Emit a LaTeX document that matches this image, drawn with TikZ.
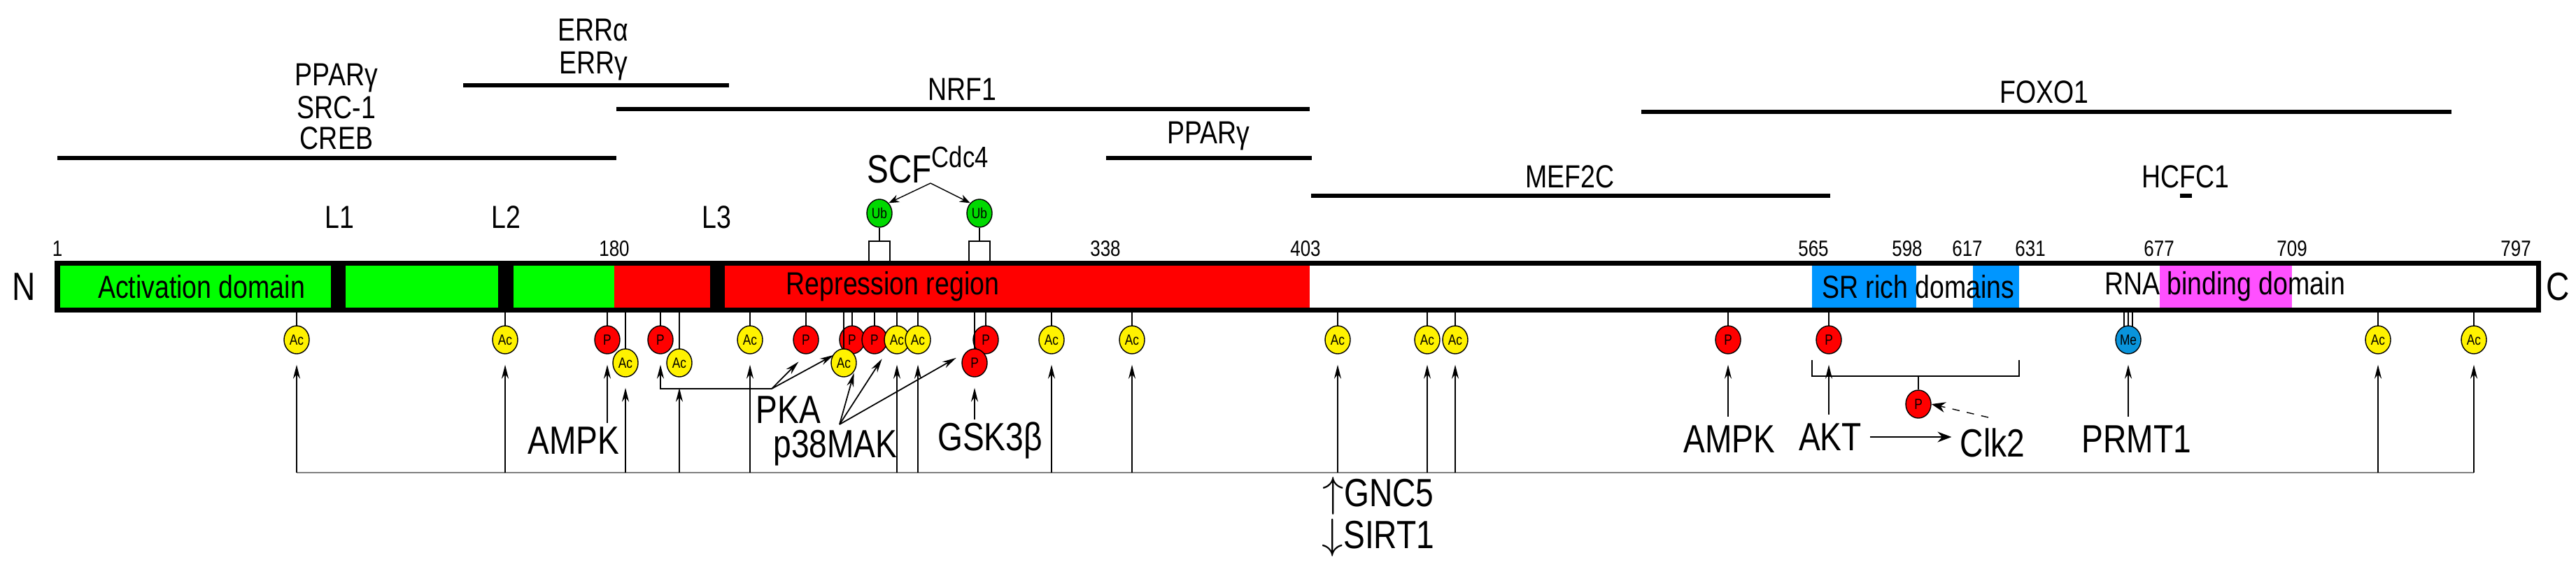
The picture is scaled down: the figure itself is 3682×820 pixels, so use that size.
\documentclass[tikz,border=0pt]{standalone}
\usepackage{fontspec}
\setmainfont{Liberation Sans}[FakeStretch=0.82]
\usetikzlibrary{arrows.meta,shapes.geometric}
\definecolor{srblue}{RGB}{0,150,255}
\definecolor{rnapink}{RGB}{255,80,255}
\begin{document}
\begin{tikzpicture}[x=0.01cm,y=-0.01cm,
  lab/.style={font=\fontsize{13}{15}\selectfont},
  big/.style={font=\fontsize{16}{18}\selectfont},
  num/.style={font=\fontsize{9}{10}\selectfont,inner sep=0pt},
  bind/.style={line width=1.8pt},
  site/.style={ellipse,draw,line width=0.4pt,minimum width=0.36cm,minimum height=0.4cm,inner sep=0pt,font=\fontsize{6}{7}\selectfont},
  ac/.style={site,fill=yellow},
  ph/.style={site,fill=red},
  ub/.style={site,fill=green!85!black},
  me/.style={site,fill=cyan!80!blue},
  up/.style={-{Stealth[length=0.2cm,width=0.1cm]},line width=0.5pt,shorten >=0.15cm}]
\useasboundingbox (0,0) rectangle (3682,820);

% binding partners
\draw[bind] (82,226) -- (881,226);
\node[lab] (ppg) at (481,111) {PPARγ};
\node[lab] (src) at (481,154) {SRC-1};
\node[lab] (creb) at (481,198) {CREB};
\draw[bind] (662,122) -- (1042,122);
\node[lab] (erra) at (848,43) {ERRα};
\node[lab] (errg) at (848,94) {ERRγ};
\draw[bind] (881,156) -- (1872,156);
\node[lab] (nrf) at (1375,128) {NRF1};
\draw[bind] (1581,226) -- (1875,226);
\node[lab] (ppg2) at (1727,194) {PPARγ};
\draw[bind] (1874,280) -- (2616,280);
\node[lab] (mef) at (2244,253) {MEF2C};
\draw[bind] (2346,160) -- (3504,160);
\node[lab] (foxo) at (2922,132) {FOXO1};
\draw[bind] (3116,280) -- (3133,280);
\node[lab] (hcfc) at (3124,253) {HCFC1};

% protein bar
\fill[green] (82,376) rectangle (878,443);
\fill[red] (878,376) rectangle (1872,443);
\fill[black] (473,376) rectangle (494,443);
\fill[black] (712,376) rectangle (734,443);
\fill[black] (1015,376) rectangle (1036,443);
\fill[srblue] (2590,376) rectangle (2739,443);
\fill[srblue] (2820,376) rectangle (2886,443);
\fill[rnapink] (3087,376) rectangle (3276,443);
\draw[line width=2pt] (82,376) rectangle (3628,443);
\node[lab] (actd) at (288,410) {Activation domain};
\node[lab] (repr) at (1276,410) {Repression region};
\node[lab] (srd) at (2742,410) {SR rich domains};
\node[lab] (rnad) at (3180,410) {RNA binding domain};
\node[big] (nterm) at (34,410) {N};
\node[big] (cterm) at (3656,410) {C};
\foreach \x/\t in {82/1,878/180,1580/338,1866/403,2592/565,2726/598,2812/617,2902/631,3086/677,3276/709,3596/797}
  \node[num] at (\x,356) {\t};
\node[lab] (lA) at (485,311) {L1};
\node[lab] (lB) at (723,311) {L2};
\node[lab] (lC) at (1024,311) {L3};

% ubiquitination
\node[ub] (ubA) at (1257,305) {Ub};
\node[ub] (ubB) at (1400,305) {Ub};
\foreach \n/\x in {ubA/1257,ubB/1400} {
  \draw (\n.south) -- (\x,345);
  \draw (\x-15,376) -- (\x-15,345) -- (\x+15,345) -- (\x+15,376);
}
\node[big] (scf) at (1327,235) {SCF\textsuperscript{\fontsize{12}{13}\selectfont Cdc4}};
\draw[-{Stealth[length=0.15cm]}] (1330,262) -- (ubA.north east);
\draw[-{Stealth[length=0.15cm]}] (1330,262) -- (ubB.north west);

% modification sites
\foreach \n/\x/\t/\s in {acA/424/ac/Ac,acB/722/ac/Ac,pA/868/ph/P,pB/944/ph/P,acC/1072/ac/Ac,pC/1152/ph/P,pD/1218/ph/P,pE/1250/ph/P,acD/1282/ac/Ac,acE/1312/ac/Ac,pF/1409/ph/P,acF/1503/ac/Ac,acG/1618/ac/Ac,acH/1912/ac/Ac,acI/2040/ac/Ac,acJ/2080/ac/Ac,pG/2470/ph/P,pH/2614/ph/P,acK/3399/ac/Ac,acL/3536/ac/Ac} {
  \draw (\x,443) -- (\x,466);
  \node[\t] (\n) at (\x,486) {\s};
}
\foreach \n/\x/\t/\s in {acM/894/ac/Ac,acN/971/ac/Ac,acO/1206/ac/Ac,pI/1393/ph/P} {
  \draw (\x,443) -- (\x,499);
  \node[\t] (\n) at (\x,519) {\s};
}
\foreach \x in {3036,3042,3048} \draw (\x,443) -- (\x,468);
\node[me] (meA) at (3042,486) {Me};

% acetylation by GCN5 / SIRT1
\coordinate (base) at (0,676);
\draw[gray,line width=0.8pt] (acA |- base) -- (acL |- base);
\foreach \n in {acA,acB,acM,acN,acC,acD,acE,acF,acG,acH,acI,acJ,acK,acL}
  \draw[up] (\n |- base) -- (\n.south);
\node[big] (gcn) at (1970,709) {$\uparrow$GNC5};
\node[big] (sirt) at (1970,769) {$\downarrow$SIRT1};

% kinases
\node[big] (ampkA) at (820,630) {AMPK};
\draw[up] (pA |- 0,605) -- (pA.south);
\node[big] (pka) at (1127,586) {PKA};
\coordinate (pkaj) at (1103,556);
\draw[up] (pkaj) -- (pB |- pkaj) -- (pB.south);
\draw[up] (pkaj) -- (pC.south);
\draw[up] (pkaj) -- (pD.south west);
\node[big] (p38) at (1194,641) {p38MAK};
\coordinate (p38j) at (1200,607);
\draw[up] (p38j) -- (acO.east);
\draw[up] (p38j) -- (acD.south west);
\draw[up] (p38j) -- (pI.north west);
\node[big] (gsk) at (1415,630) {GSK3β};
\draw[up] (pI |- 0,600) -- (pI.south);
\node[big] (ampkB) at (2472,628) {AMPK};
\draw[up] (pG |- ampkB.north) -- (pG.south);
\node[big] (akt) at (2616,625) {AKT};
\draw[up] (pH |- akt.north) -- (pH.south);
\draw (2590,515) -- (2590,538) -- (2886,538) -- (2886,515);
\node[ph] (pJ) at (2742,578) {P};
\draw (2742,538) -- (pJ.north);
\node[big] (clk) at (2848,633) {Clk2};
\draw[-{Stealth[length=0.2cm]},dashed] (2842,597) -- (pJ.east);
\draw[-{Stealth[length=0.2cm]}] (akt.east) -- (clk.west |- akt.east);
\node[big] (prmt) at (3054,628) {PRMT1};
\draw[up] (meA |- prmt.north) -- (meA.south);
\end{tikzpicture}
\end{document}
